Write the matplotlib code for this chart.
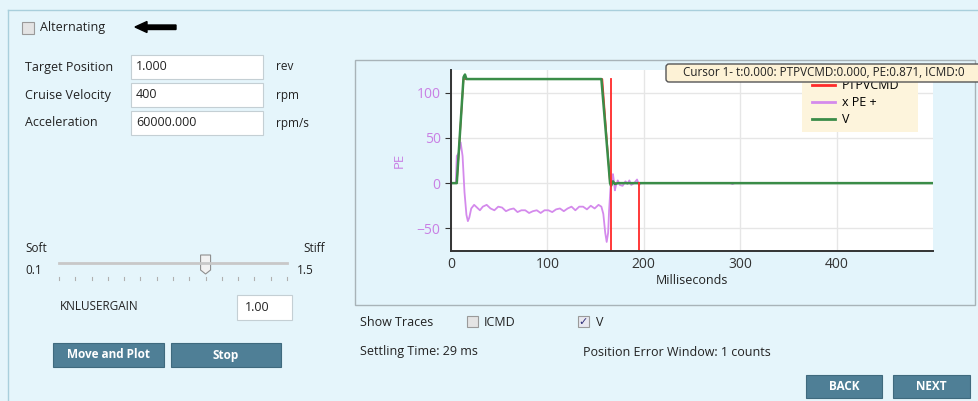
import numpy as np
import matplotlib
matplotlib.use('Agg')
import matplotlib.pyplot as plt
from matplotlib.patches import Rectangle, FancyBboxPatch, Polygon

plt.rcParams['font.family'] = ['Open Sans', 'DejaVu Sans']

# ---- trace data ----
pe_t = [0, 5, 6, 8, 10, 12, 14, 16, 17.5, 19, 21, 24, 27, 30, 33, 37, 41, 45, 49, 53,
        57, 61, 65, 69, 73, 77, 81, 85, 89, 93, 97, 101, 105, 109, 113, 117, 121, 125,
        129, 133, 137, 141, 145, 149, 153, 156, 158, 160, 161.5, 163, 164, 165.5, 167,
        168, 169, 170, 171, 173, 175, 178, 181, 183, 185, 187, 190, 193, 195, 197, 290,
        292, 294, 500]
pe_v = [0, 0, 30, 33, 45, 30, -10, -35, -42, -38, -28, -24, -27, -30, -26, -24, -28, -30,
        -26, -27, -31, -29, -28, -32, -30, -30, -33, -31, -30, -33, -30, -30, -32, -29,
        -28, -31, -28, -26, -30, -26, -26, -29, -25, -28, -24, -26, -34, -55, -65, -55,
        -30, -5, 5, 10, 2, -8, -3, 3, -2, -3, 2, -1, 3, -2, 0, 4, -2, 0, 0, -1, 0, 0]

v_t = [0, 6, 13, 14.5, 16, 156, 165, 166, 168, 170, 173, 500]
v_v = [0, 0, 117, 120, 115, 115, 0, -3, 2, -1, 0, 0]

cmd_t = [0, 6, 13, 157, 165, 500]
cmd_v = [0, 0, 115, 115, 0, 0]

cursor_t = [165.5, 195]
cursor_top = [115, 0]

x_ticks = [0, 100, 200, 300, 400]
y_ticks = [-50, 0, 50, 100]

legend_names = ['PTPVCMD', 'x PE +', 'V']

# ---- UI values ----
field_labels = ['Target Position', 'Cruise Velocity', 'Acceleration']
field_values = ['1.000', '400', '60000.000']
field_units = ['rev', 'rpm', 'rpm/s']
slider_min, slider_max, slider_step, slider_val = 0.1, 1.5, 0.1, 1.0
gain_text = '1.00'
settling_ms = 29
pe_window = 1

BG = '#e5f5fb'
BTN = '#4f7f96'
GREEN = '#3a8c48'
VIOLET = '#d48aec'
RED = '#ff2a2a'
TXT = '#222222'
FS = 9

fig = plt.figure(figsize=(9.79, 4.01), dpi=100)
fig.patch.set_facecolor(BG)

ui = fig.add_axes([0, 0, 1, 1])
ui.set_xlim(0, 979)
ui.set_ylim(401, 0)
ui.axis('off')

# outer frame
ui.plot([8, 979], [10, 10], color='#a9cfdc', lw=1)
ui.plot([8, 8], [10, 401], color='#a9cfdc', lw=1)

# alternating checkbox + arrow
ui.add_patch(Rectangle((22, 22), 12, 12, fc='#e4e4e4', ec='#9a9a9a', lw=0.8))
ui.text(40, 28, 'Alternating', fontsize=FS, va='center', color=TXT)
ui.add_patch(Polygon([[135, 27], [147, 21.5], [147, 25], [176, 25], [176, 29.5],
                      [147, 29.5], [147, 32.5]], closed=True, fc='black', ec='black'))

# entry fields
for i, (lab, val, unit) in enumerate(zip(field_labels, field_values, field_units)):
    y = 67 + 28 * i
    ui.text(25, y, lab, fontsize=FS, va='center', color=TXT)
    ui.add_patch(Rectangle((131, y - 12), 132, 24, fc='white', ec='#c4cfd4', lw=0.8))
    ui.text(136, y, val, fontsize=FS, va='center', color=TXT)
    ui.text(276, y, unit, fontsize=8.5, va='center', color=TXT)

# slider
sx0, sx1, sy = 59, 287, 263
ui.text(25, 248, 'Soft', fontsize=8.5, va='center', color=TXT)
ui.text(25, 271, '%.1f' % slider_min, fontsize=8.5, va='center', color=TXT)
ui.text(303, 248, 'Stiff', fontsize=8.5, va='center', color=TXT)
ui.text(297, 271, '%.1f' % slider_max, fontsize=8.5, va='center', color=TXT)
ui.plot([sx0, sx1], [sy, sy], color='#c8c8c8', lw=2)
n = int(round((slider_max - slider_min) / slider_step)) + 1
for k in range(n):
    tx = sx0 + (sx1 - sx0) * k / (n - 1)
    ui.plot([tx, tx], [277, 280], color='#b0b0b0', lw=0.8)
thumb = sx0 + (sx1 - sx0) * (slider_val - slider_min) / (slider_max - slider_min)
ui.add_patch(Polygon([[thumb - 5, 255], [thumb + 5, 255], [thumb + 5, 270], [thumb, 274],
                      [thumb - 5, 270]], closed=True, fc='#f2f2f2', ec='#8f8f8f', lw=0.8))

ui.text(60, 307, 'KNLUSERGAIN', fontsize=8.5, va='center', color=TXT)
ui.add_patch(Rectangle((237, 295), 55, 25, fc='white', ec='#c4cfd4', lw=0.8))
ui.text(245, 307.5, gain_text, fontsize=FS, va='center', color=TXT)

# buttons
for (x0, x1, y0, y1, lab) in [(53, 164, 343, 367, 'Move and Plot'), (171, 281, 343, 367, 'Stop'),
                              (806, 882, 375, 398, 'BACK'), (893, 970, 375, 398, 'NEXT')]:
    ui.add_patch(Rectangle((x0, y0), x1 - x0, y1 - y0, fc=BTN, ec='#3f6a7e', lw=0.8))
    ui.text((x0 + x1) / 2, (y0 + y1) / 2, lab, fontsize=8.5, fontweight='bold',
            color='white', ha='center', va='center')

# chart panel
ui.add_patch(Rectangle((355, 60), 620, 245, fc='#e3f4fb', ec='#a8b3b8', lw=1))

ui.text(360, 322, 'Show Traces', fontsize=FS, va='center', color=TXT)
ui.add_patch(Rectangle((467, 316), 11, 11, fc='#e4e4e4', ec='#9a9a9a', lw=0.8))
ui.text(484, 322, 'ICMD', fontsize=FS, va='center', color=TXT)
ui.add_patch(Rectangle((578, 316), 11, 11, fc='#e8e8f0', ec='#9a9a9a', lw=0.8))
ui.text(583.5, 321.5, '\u2713', fontsize=8, va='center', ha='center', color='#30307a',
        fontweight='bold', family=['DejaVu Sans'])
ui.text(596, 322, 'V', fontsize=FS, va='center', color=TXT)
ui.text(360, 352, 'Settling Time: %d ms' % settling_ms, fontsize=FS, va='center', color=TXT)
ui.text(583, 352, 'Position Error Window: %d counts' % pe_window, fontsize=FS,
        va='center', color=TXT)

# ---- chart ----
W, H = 979.0, 401.0
ax = fig.add_axes([451 / W, 1 - 251 / H, (933 - 451) / W, (251 - 70) / H])
ax.set_facecolor('white')
ax.set_xlim(0, 500)
ax.set_ylim(-75, 125)
ax.set_xticks(x_ticks)
ax.set_yticks(y_ticks)
ax.grid(True, color='#e6e6e6', lw=1)
ax.set_axisbelow(True)
for s in ['top', 'right']:
    ax.spines[s].set_visible(False)
for s in ['left', 'bottom']:
    ax.spines[s].set_color('#333333')
    ax.spines[s].set_linewidth(1.4)
ax.tick_params(axis='y', colors='#333333', labelcolor='#c97fe4', labelsize=10, length=4)
ax.tick_params(axis='x', colors='#333333', labelcolor='#333333', labelsize=10, length=0, pad=4)

ax.plot(cmd_t, cmd_v, color=RED, lw=1.2, label=legend_names[0])
ax.plot(pe_t, pe_v, color=VIOLET, lw=1.3, label=legend_names[1])
ax.plot(v_t, v_v, color=GREEN, lw=1.8, label=legend_names[2])
for t, top in zip(cursor_t, cursor_top):
    ax.plot([t, t], [-75, top], color=RED, lw=1.3)

ax.set_ylabel('PE', color='#c97fe4', fontsize=9.5, labelpad=8)
ax.set_xlabel('Milliseconds', color=TXT, fontsize=FS, labelpad=2)

# legend background, then the legend itself
ax.add_patch(Rectangle((802 / W, 1 - 132 / H), 116 / W, 60 / H, transform=fig.transFigure,
                       fc='#fdf4dc', ec='none', zorder=4, clip_on=False))
leg = ax.legend(loc='upper left', bbox_to_anchor=(807 / W, 1 - 74 / H),
                bbox_transform=fig.transFigure, fontsize=FS, frameon=False,
                handlelength=1.85, handletextpad=0.55, labelspacing=0.32, borderpad=0.4,
                borderaxespad=0)
for line in leg.get_lines():
    line.set_linewidth(2)

# cursor tooltip on top
top = fig.add_axes([0, 0, 1, 1], zorder=10)
top.set_xlim(0, 979)
top.set_ylim(401, 0)
top.axis('off')
top.patch.set_alpha(0)
top.add_patch(FancyBboxPatch((666, 64), 330, 18, boxstyle='round,pad=0,rounding_size=3',
                             fc='#fdf2d6', ec='#555555', lw=1, clip_on=False))
top.text(683, 73, 'Cursor 1- t:0.000: PTPVCMD:0.000, PE:0.871, ICMD:0', fontsize=8.4,
         va='center', color=TXT, clip_on=False)

fig.savefig('out.png', dpi=100, facecolor=BG)
